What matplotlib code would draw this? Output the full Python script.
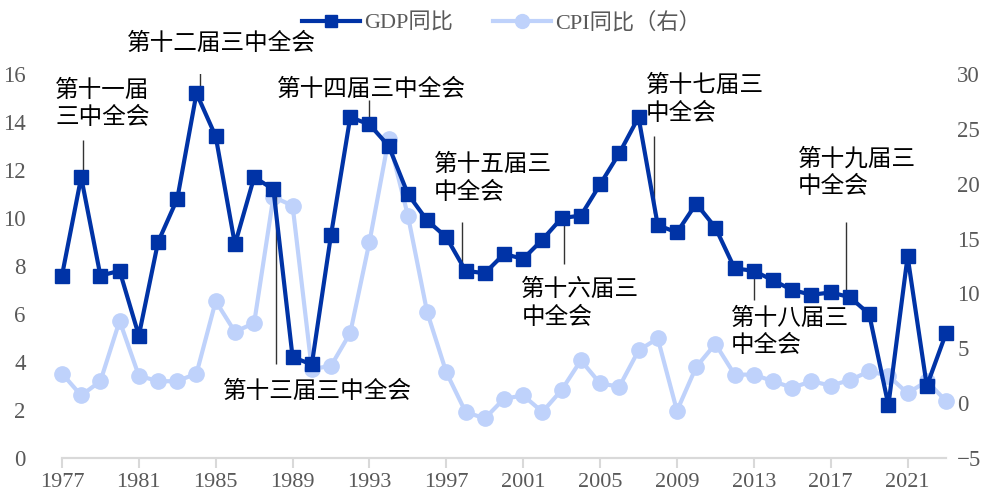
import numpy as np
import matplotlib.pyplot as plt
from matplotlib.lines import Line2D

years = np.arange(1977, 2024)
gdp = [7.6, 11.7, 7.6, 7.8, 5.1, 9.0, 10.8, 15.2, 13.4, 8.9,
       11.7, 11.2, 4.2, 3.9, 9.3, 14.2, 13.9, 13.0, 11.0, 9.9,
       9.2, 7.8, 7.7, 8.5, 8.3, 9.1, 10.0, 10.1, 11.4, 12.7,
       14.2, 9.7, 9.4, 10.6, 9.6, 7.9, 7.8, 7.4, 7.0, 6.8,
       6.9, 6.7, 6.0, 2.2, 8.4, 3.0, 5.2]
cpi = [2.7, 0.7, 2.0, 7.5, 2.5, 2.0, 2.0, 2.7, 9.3, 6.5,
       7.3, 18.8, 18.0, 3.1, 3.4, 6.4, 14.7, 24.1, 17.1, 8.3,
       2.8, -0.8, -1.4, 0.4, 0.7, -0.8, 1.2, 3.9, 1.8, 1.5,
       4.8, 5.9, -0.7, 3.3, 5.4, 2.6, 2.6, 2.0, 1.4, 2.0,
       1.6, 2.1, 2.9, 2.5, 0.9, 2.0, 0.2]
xticks = list(range(1977, 2024, 4))

# 标注：文字, 连线年份, 连线上下端, 文字左端年份, 文字顶端
notes = [
    ("第十一届\n三中全会", 1978.1, 13.25, 11.7, 1976.65, 15.8),
    ("第十二届三中全会", 1984.2, 16.08, 15.2, 1980.4, 17.75),
    ("第十三届三中全会", 1988.15, 11.0, 3.9, 1985.4, 3.25),
    ("第十四届三中全会", 1993.0, 14.92, 13.7, 1988.2, 15.85),
    ("第十五届三\n中全会", 1997.8, 9.83, 8.0, 1996.35, 12.7),
    ("第十六届三\n中全会", 2003.1, 10.0, 8.1, 2000.9, 7.5),
    ("第十七届三\n中全会", 2007.8, 13.4, 10.2, 2007.4, 16.0),
    ("第十八届三\n中全会", 2013.0, 7.83, 6.6, 2011.8, 6.3),
    ("第十九届三\n中全会", 2017.77, 9.83, 6.8, 2015.3, 12.95),
]

c_gdp = '#0033A6'
c_cpi = '#BFD2FB'
num_font = 'Liberation Serif'
cjk = ['Noto Sans CJK SC']
mixed = ['Liberation Serif', 'Noto Sans CJK SC']

fig = plt.figure(figsize=(9.93, 4.97), dpi=100)
ax = fig.add_axes([0.0624, 0.0785, 0.8903, 0.7725])
ax2 = ax.twinx()

ax2.plot(years, cpi, color=c_cpi, lw=3, marker='o', ms=11, clip_on=False, zorder=3)
ax.plot(years, gdp, color=c_gdp, lw=3, marker='s', ms=10, clip_on=False, zorder=3)

ax.set_zorder(ax2.get_zorder() + 1)
ax.patch.set_visible(False)

for label, lx, y1, y2, tx, ty in notes:
    ax.vlines(lx, y2, y1, color='#333333', lw=1, zorder=1)
    ax.text(tx, ty, label, family=cjk, fontsize=17, ha='left', va='top',
            linespacing=1.25, color='black', zorder=5, clip_on=False)

ax.set_xlim(1977, 2023)
ax.set_ylim(0, 16)
ax.set_yticks(np.arange(0, 17, 2))
ax2.set_ylim(-5, 30)
ax2.set_yticks(np.arange(-5, 31, 5))
ax.set_xticks(xticks)

for a in (ax, ax2):
    for s in ('top', 'left', 'right'):
        a.spines[s].set_visible(False)
    a.spines['bottom'].set_color('#D9D9D9')
    a.spines['bottom'].set_linewidth(1.5)
    a.tick_params(axis='y', length=0, labelsize=16.5, labelcolor='#595959')
ax.tick_params(axis='x', length=7, color='#D9D9D9', width=1.5, labelsize=16,
               labelcolor='#595959', pad=4)
ax.tick_params(axis='y', pad=26)
ax2.tick_params(axis='y', pad=8)
for t in ax.get_xticklabels() + ax.get_yticklabels() + ax2.get_yticklabels():
    t.set_family(num_font)

handles = [Line2D([], [], color=c_gdp, lw=3, marker='s', ms=9),
           Line2D([], [], color=c_cpi, lw=3, marker='o', ms=10)]
fig.legend(handles, ['GDP同比', 'CPI同比（右）'], loc='center', bbox_to_anchor=(0.505, 0.953),
           ncol=2, frameon=False, handlelength=2.6, handletextpad=0.2, columnspacing=1.8,
           prop={'family': mixed, 'size': 16}, labelcolor='#595959')

fig.savefig('out.png', dpi=100)
